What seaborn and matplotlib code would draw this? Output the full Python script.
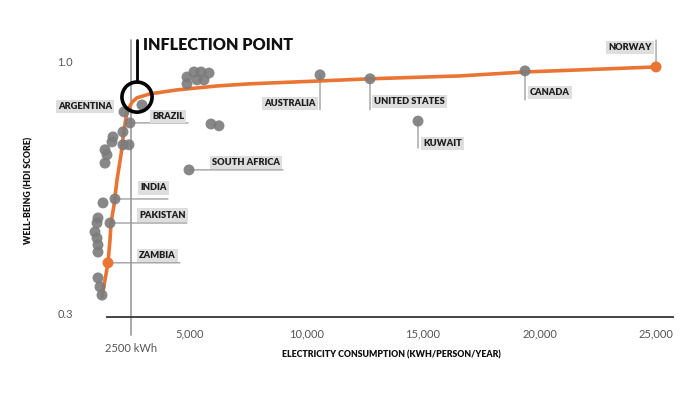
import numpy as np
import matplotlib
matplotlib.use("Agg")
import matplotlib.pyplot as plt
import seaborn as sns
import pandas as pd

# electricity use (kWh/person/year) and HDI
gray_x = [2957, 2186, 2443, 2143, 1714, 1671, 2143, 2400, 1371, 1457, 1371,
          1800, 1286, 1071, 1029, 943, 1029, 1071, 1071, 1586, 1071, 1157, 1243,
          4886, 4886, 5186, 5486, 5829, 5314, 5614, 5914, 6257,
          10586, 12729, 19372, 14786, 4972]
gray_y = [0.880, 0.861, 0.830, 0.805, 0.791, 0.777, 0.769, 0.769, 0.755, 0.741, 0.718,
          0.618, 0.607, 0.565, 0.551, 0.526, 0.509, 0.490, 0.470, 0.551, 0.398, 0.373, 0.350,
          0.958, 0.939, 0.972, 0.972, 0.969, 0.950, 0.950, 0.827, 0.822,
          0.964, 0.953, 0.975, 0.835, 0.699]

# fitted curve
curve_x = [1243, 1371, 1500, 1586, 1629, 1757, 1886, 2057, 2186, 2314, 2529, 2743,
           3300, 4457, 6171, 7586, 10586, 12729, 16586, 19372, 22587, 24987]
curve_y = [0.345, 0.392, 0.440, 0.504, 0.551, 0.601, 0.671, 0.741, 0.810, 0.861, 0.888, 0.900,
           0.911, 0.922, 0.933, 0.939, 0.947, 0.953, 0.961, 0.972, 0.980, 0.986]

# highlighted countries on the curve
orange_names = ["ZAMBIA", "NORWAY"]
orange_x = [1500, 24987]
orange_y = [0.440, 0.986]

label_names = ["ARGENTINA", "BRAZIL", "SOUTH AFRICA", "INDIA", "PAKISTAN", "ZAMBIA",
               "AUSTRALIA", "UNITED STATES", "KUWAIT", "CANADA", "NORWAY"]
label_x = [2186, 2443, 4972, 1800, 1586, 1500, 10586, 12729, 14786, 19372, 24987]
label_y = [0.861, 0.830, 0.699, 0.618, 0.551, 0.440, 0.964, 0.953, 0.835, 0.975, 0.986]

xticks = [5000, 10000, 15000, 20000, 25000]
xtick_labels = ["5,000", "10,000", "15,000", "20,000", "25,000"]
yticks = [0.3, 1.0]
ytick_labels = ["0.3", "1.0"]

# label placement in pixels: text dx, dy, ha, connector end dx, dy
placement = {
    "ARGENTINA": (-12, 5, "right", 0, 0),
    "BRAZIL": (22, 6, "left", 58, 0),
    "SOUTH AFRICA": (23, 7, "left", 94, 0),
    "INDIA": (25, 11, "left", 53, 0),
    "PAKISTAN": (29, 8, "left", 77, 0),
    "ZAMBIA": (31, 7, "left", 72, 0),
    "AUSTRALIA": (-4, -29, "right", 0, -35),
    "UNITED STATES": (4, -23, "left", 0, -31),
    "KUWAIT": (5, -22, "left", 0, -27),
    "CANADA": (5, -22, "left", 0, -29),
    "NORWAY": (-4, 19, "right", 0, 27),
}

sns.set_style("white")
plt.rcParams['font.family'] = ['Lato', 'DejaVu Sans']

W, H = 700, 393
fig = plt.figure(figsize=(7, 3.93), dpi=100)
ax = fig.add_axes([80 / W, 1 - 317 / H, 600 / W, 287 / H])
ax.set_xlim(300, 26014)
ax.set_ylim(0.289, 1.089)

orange = "#ea7434"
px = 0.72  # points per pixel

sns.lineplot(x=curve_x, y=curve_y, ax=ax, color=orange, lw=2.6, sort=False, zorder=2)
sns.scatterplot(x=gray_x, y=gray_y, ax=ax, color="#7b7b7b", s=62, alpha=0.9,
                edgecolor="none", zorder=3)
sns.scatterplot(x=orange_x, y=orange_y, ax=ax, color=orange, s=62,
                edgecolor="none", zorder=4)

for name, x, y in zip(label_names, label_x, label_y):
    tdx, tdy, ha, ldx, ldy = placement[name]
    if ldx or ldy:
        ax.annotate("", xy=(x, y), xytext=(ldx * px, ldy * px), textcoords="offset points",
                    arrowprops=dict(arrowstyle="-", color="#8a8a8a", lw=0.8,
                                    shrinkA=0, shrinkB=0), zorder=1)
    ax.annotate(name, xy=(x, y), xytext=(tdx * px, tdy * px), textcoords="offset points",
                ha=ha, va="center", fontsize=6.7, fontweight="heavy", color="#1e1e1e",
                bbox=dict(boxstyle="square,pad=0.22", fc="#dedede", ec="none"), zorder=5)

# inflection point marker
ax.plot([2500, 2500], [1.061, 0.239], color="#999999", lw=1.2, clip_on=False, zorder=1)
ax.plot([2743, 2743], [1.061, 0.943], color="black", lw=2, clip_on=False, zorder=6)
ax.scatter([2743], [0.902], s=470, facecolor="none", edgecolor="black", lw=2.6, zorder=6)
ax.text(3000, 1.046, "INFLECTION POINT", fontsize=11.6, fontweight="heavy",
        color="#111111", va="center", ha="left")
ax.text(2500, 0.2, "2500 kWh", fontsize=8, color="#555555", ha="center", va="center",
        clip_on=False)

ax.set_xticks(xticks)
ax.set_xticklabels(xtick_labels)
ax.set_yticks(yticks)
ax.set_yticklabels(ytick_labels)
ax.tick_params(axis="x", length=0, pad=8, labelsize=8, labelcolor="#555555")
ax.tick_params(axis="y", length=0, pad=5, labelsize=8, labelcolor="#555555")

for s in ["left", "top", "right"]:
    ax.spines[s].set_visible(False)
ax.spines["bottom"].set_bounds(1450, 25700)
ax.spines["bottom"].set_color("#444444")
ax.spines["bottom"].set_linewidth(1.4)

ax.set_xlabel("ELECTRICITY CONSUMPTION (KWH/PERSON/YEAR)", fontsize=6.3,
              fontweight="heavy", color="#111111", labelpad=10)
ax.xaxis.set_label_coords((391 - 80) / 600, -(350 - 317) / 287)
ax.set_ylabel("WELL-BEING (HDI SCORE)", fontsize=6.3, fontweight="heavy", color="#111111")
ax.yaxis.set_label_coords(-(80 - 33) / 600, (317 - 190) / 287)

fig.savefig("out.png", dpi=100)
